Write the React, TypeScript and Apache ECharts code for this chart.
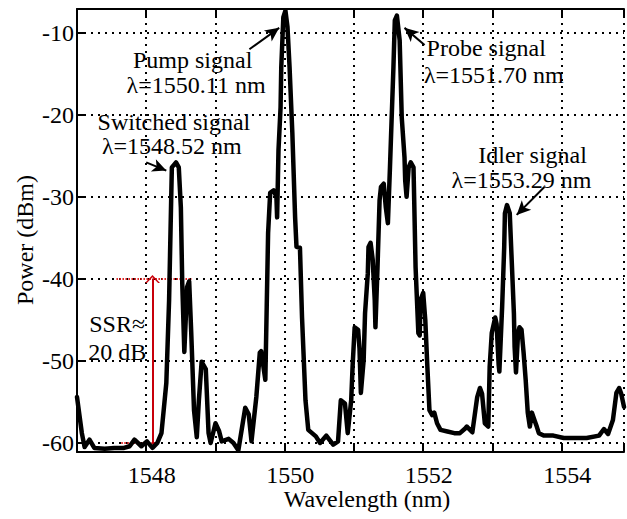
import React, { useEffect, useRef } from 'react';
import * as echarts from 'echarts';

const FONT = '"Liberation Serif", "Times New Roman", Times, serif';

// Measured spectrum (wavelength in nm, power in dBm)
const wavelength = [
  1547.00, 1547.07, 1547.11, 1547.18, 1547.25, 1547.40, 1547.54, 1547.68, 1547.76, 1547.83,
  1547.93, 1548.01, 1548.09, 1548.16, 1548.22, 1548.29, 1548.33, 1548.36, 1548.37, 1548.43,
  1548.47, 1548.50, 1548.52, 1548.55, 1548.57, 1548.59, 1548.62, 1548.65, 1548.69, 1548.73,
  1548.76, 1548.80, 1548.86, 1548.90, 1548.93, 1549.00, 1549.05, 1549.09, 1549.19, 1549.26,
  1549.33, 1549.43, 1549.48, 1549.52, 1549.59, 1549.64, 1549.66, 1549.72, 1549.74, 1549.76,
  1549.79, 1549.84, 1549.88, 1549.89, 1549.91, 1549.94, 1549.95, 1549.98, 1550.01, 1550.04,
  1550.07, 1550.11, 1550.15, 1550.17, 1550.22, 1550.25, 1550.30, 1550.34, 1550.45, 1550.51,
  1550.60, 1550.70, 1550.77, 1550.81, 1550.87, 1550.91, 1550.96, 1550.98, 1551.01, 1551.06,
  1551.08, 1551.10, 1551.14, 1551.16, 1551.20, 1551.21, 1551.24, 1551.27, 1551.30, 1551.31,
  1551.34, 1551.37, 1551.39, 1551.43, 1551.46, 1551.49, 1551.52, 1551.54, 1551.57, 1551.59,
  1551.62, 1551.66, 1551.69, 1551.73, 1551.74, 1551.76, 1551.79, 1551.82, 1551.86, 1551.87,
  1551.89, 1551.93, 1551.95, 1551.96, 1552.00, 1552.03, 1552.06, 1552.09, 1552.13, 1552.16,
  1552.20, 1552.25, 1552.35, 1552.45, 1552.53, 1552.61, 1552.63, 1552.71, 1552.78, 1552.82,
  1552.85, 1552.89, 1552.94, 1552.96, 1552.99, 1553.04, 1553.06, 1553.09, 1553.10, 1553.14,
  1553.17, 1553.18, 1553.21, 1553.25, 1553.28, 1553.31, 1553.32, 1553.34, 1553.37, 1553.39,
  1553.42, 1553.45, 1553.48, 1553.51, 1553.54, 1553.57, 1553.61, 1553.64, 1553.67, 1553.74,
  1553.88, 1554.03, 1554.17, 1554.36, 1554.54, 1554.61, 1554.67, 1554.74, 1554.79, 1554.83,
  1554.86, 1554.90,
];

const power = [
  -54.4, -58.8, -60.5, -59.6, -60.6, -60.7, -60.6, -60.6, -60.4, -59.6,
  -60.4, -59.8, -60.6, -60.0, -58.8, -52.7, -42.6, -30.4, -26.4, -25.8,
  -26.4, -31.3, -40.5, -48.9, -45.0, -41.0, -40.3, -46.6, -56.0, -59.3,
  -54.8, -50.1, -51.0, -58.8, -60.0, -57.6, -58.5, -59.8, -59.5, -60.0,
  -60.9, -55.7, -56.5, -59.8, -54.4, -49.0, -48.8, -52.3, -43.4, -34.4,
  -29.5, -29.2, -30.0, -32.5, -24.3, -19.1, -14.2, -8.1, -7.3, -9.3,
  -14.2, -22.2, -32.5, -36.1, -36.2, -44.7, -54.8, -58.4, -59.2, -60.0,
  -59.1, -60.2, -59.8, -54.8, -55.2, -58.8, -54.8, -50.7, -45.9, -46.2,
  -48.5, -53.9, -49.9, -44.2, -39.3, -36.1, -35.6, -37.6, -42.6, -45.9,
  -38.6, -30.4, -28.8, -28.4, -31.3, -33.2, -26.4, -21.5, -14.2, -8.5,
  -7.9, -10.9, -20.3, -25.2, -28.0, -30.0, -26.4, -25.8, -26.4, -30.4,
  -38.6, -46.6, -46.9, -42.6, -41.7, -45.0, -50.7, -56.0, -56.6, -56.3,
  -57.6, -58.4, -58.6, -58.8, -58.8, -58.2, -58.0, -58.7, -54.4, -53.3,
  -54.0, -57.6, -58.0, -50.7, -46.6, -44.7, -45.5, -50.5, -51.3, -43.4,
  -36.1, -32.0, -31.0, -32.0, -38.1, -44.2, -48.3, -51.4, -46.6, -45.9,
  -46.2, -49.0, -52.3, -56.3, -58.0, -56.3, -57.3, -58.0, -58.8, -59.1,
  -59.1, -59.4, -59.4, -59.4, -59.1, -58.3, -58.9, -57.2, -53.9, -53.3,
  -54.0, -55.6,
];

const xTickLabels = [1548, 1550, 1552, 1554];
const yTickLabels = [-60, -50, -40, -30, -20, -10];

// Annotation texts and their centres in data coordinates (nm, dBm)
const annotationTexts = [
  'Pump signal', 'λ=1550.11 nm',
  'Switched signal', 'λ=1548.52 nm',
  'Probe signal', 'λ=1551.70 nm',
  'Idler signal', 'λ=1553.29 nm',
  'SSR≈', '20 dB',
];
const annotationX = [1548.67, 1548.72, 1548.40, 1548.37, 1552.91, 1553.02, 1553.58, 1553.42, 1547.58, 1547.58];
const annotationY = [-13.35, -16.4, -20.9, -23.8, -11.8, -15.2, -24.85, -28.0, -45.5, -48.9];

// Black pointer arrows: [fromX, fromY, toX, toY]
const pointerArrows = [
  [1549.49, -12.0, 1549.92, -9.4],
  [1552.02, -11.5, 1551.73, -9.4],
  [1548.00, -25.8, 1548.29, -26.8],
  [1553.75, -28.8, 1553.35, -32.2],
];

// SSR marker (red)
const ssrX = 1548.09;
const ssrTop = -40;
const ssrBottom = -60.2;
const ssrTopGuide = [1547.57, 1548.66];
const ssrBottomGuide = [1547.64, 1548.19];

const CHEVRON = 'path://M10,0 L20,10 L17.5,10 L10,3 L2.5,10 L0,10 Z';

export default function App() {
  const ref = useRef<HTMLDivElement>(null);

  useEffect(() => {
    if (!ref.current) return;
    const chart = echarts.init(ref.current, null, { renderer: 'svg' });
    const lineData = wavelength.map((w, i) => [w, power[i]]);

    const arrowData: any[] = pointerArrows.map((a) => [
      { coord: [a[0], a[1]], symbol: 'none', lineStyle: { color: '#000', width: 2, type: 'solid' } },
      { coord: [a[2], a[3]], symbol: 'arrow', symbolSize: [10, 14] },
    ]);

    const ssrData: any[] = [
      [
        { coord: [ssrTopGuide[0], ssrTop], symbol: 'none', lineStyle: { color: '#e02020', width: 2, type: [1.5, 1.5] } },
        { coord: [ssrTopGuide[1], ssrTop], symbol: 'none' },
      ],
      [
        { coord: [ssrBottomGuide[0], -60], symbol: 'none', lineStyle: { color: '#e02020', width: 2, type: [1.5, 1.5] } },
        { coord: [ssrBottomGuide[1], -60], symbol: 'none' },
      ],
      [
        { coord: [ssrX, ssrTop], symbol: CHEVRON, symbolSize: [15, 8], lineStyle: { color: '#c8000a', width: 2, type: 'solid' } },
        { coord: [ssrX, ssrBottom], symbol: CHEVRON, symbolSize: [15, 8] },
      ],
    ];

    const tickStyle = { color: '#000', width: 2 };
    const gridStyle = { color: '#000', width: 2, type: [2, 5] };

    chart.setOption({
      animation: false,
      grid: { left: 77, right: 0, top: 9, bottom: 67, containLabel: false },
      xAxis: [
        {
          type: 'value',
          min: 1547,
          max: 1554.9,
          interval: 1,
          position: 'bottom',
          axisLine: { show: true, onZero: false, lineStyle: { color: '#000', width: 2 } },
          axisTick: { show: true, inside: true, length: 7, lineStyle: tickStyle },
          axisLabel: {
            color: '#000',
            fontSize: 24,
            fontFamily: FONT,
            margin: 11,
            padding: [0, 0, 0, 11],
            formatter: (v: number) => (xTickLabels.includes(v) ? String(v) : ''),
          },
          splitLine: { show: true, lineStyle: gridStyle },
        },
        {
          type: 'value',
          min: 1547,
          max: 1554.9,
          interval: 1,
          position: 'top',
          axisLine: { show: true, onZero: false, lineStyle: { color: '#000', width: 2 } },
          axisTick: { show: true, inside: true, length: 7, lineStyle: tickStyle },
          axisLabel: { show: false },
          splitLine: { show: false },
        },
      ],
      yAxis: {
        type: 'value',
        min: -61.1,
        max: -7.1,
        splitNumber: 5,
        axisLine: { show: true, onZero: false, lineStyle: { color: '#000', width: 2 } },
        axisTick: { show: true, inside: true, length: 7, lineStyle: tickStyle },
        axisLabel: {
          color: '#000',
          fontSize: 24,
          fontFamily: FONT,
          margin: 3,
          formatter: (v: number) => (yTickLabels.includes(v) ? String(v) : ''),
        },
        splitLine: { show: true, lineStyle: gridStyle },
      },
      series: [
        {
          type: 'line',
          data: lineData,
          xAxisIndex: 0,
          yAxisIndex: 0,
          symbol: 'none',
          smooth: false,
          clip: true,
          lineStyle: { color: '#000', width: 4.5, join: 'round', cap: 'round' },
          z: 5,
          markLine: {
            silent: true,
            animation: false,
            label: { show: false },
            emphasis: { disabled: true },
            data: arrowData,
          },
        },
        {
          type: 'line',
          data: [[ssrX, ssrBottom]],
          xAxisIndex: 0,
          yAxisIndex: 0,
          symbol: 'none',
          showSymbol: false,
          lineStyle: { width: 0, opacity: 0 },
          z: 10,
          markLine: {
            silent: true,
            animation: false,
            label: { show: false },
            emphasis: { disabled: true },
            data: ssrData,
          },
        },
      ],
    });

    const graphics: any[] = [
      {
        type: 'text',
        x: 367,
        y: 499,
        z: 100,
        style: {
          text: 'Wavelength (nm)',
          fill: '#000',
          fontSize: 24,
          fontFamily: FONT,
          align: 'center',
          verticalAlign: 'middle',
        },
      },
      {
        type: 'text',
        x: 25,
        y: 240,
        rotation: Math.PI / 2,
        z: 100,
        style: {
          text: 'Power (dBm)',
          fill: '#000',
          fontSize: 24,
          fontFamily: FONT,
          align: 'center',
          verticalAlign: 'middle',
        },
      },
    ];
    annotationTexts.forEach((t, i) => {
      const p = chart.convertToPixel({ xAxisIndex: 0, yAxisIndex: 0 }, [annotationX[i], annotationY[i]]) as number[];
      graphics.push({
        type: 'text',
        x: p[0],
        y: p[1],
        z: 100,
        style: {
          text: t,
          fill: '#000',
          fontSize: 24,
          lineHeight: 21,
          fontFamily: FONT,
          align: 'center',
          verticalAlign: 'middle',
        },
      });
    });
    chart.setOption({ graphic: graphics });

    return () => chart.dispose();
  }, []);

  return (
    <div
      ref={ref}
      style={{ position: 'fixed', left: 0, top: 0, width: 627, height: 519, background: '#fff' }}
    />
  );
}
